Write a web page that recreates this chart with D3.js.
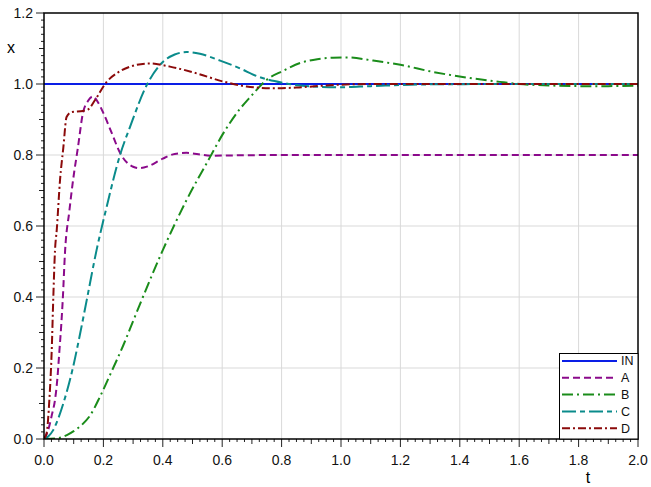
<!DOCTYPE html>
<html lang="en">
    <head>
        <meta charset="UTF-8">
        <title>Step responses</title>
        <style>
            body { margin: 0; background: white; }
            svg { display: block; font-family: "Liberation Sans", Arial, sans-serif; }
            .grid line { stroke: #d9d9d9; stroke-width: 1; }
            .tick-label { font-size: 14px; fill: #111; }
            .series { fill: none; stroke-width: 2; }
            .legend-text { font-size: 12.5px; fill: #111; }
        </style>
    </head>
    <body>
        <script src="https://d3js.org/d3.v7.min.js"></script>
        <script>
            // series: [t, x] pairs
            const seriesIN = [[0, 1], [2, 1]];
            const seriesA = [[0, 0], [0.008, 0.012], [0.017, 0.034], [0.027, 0.07], [0.037, 0.11], [0.045, 0.17],
                [0.052, 0.25], [0.058, 0.32], [0.063, 0.39], [0.071, 0.53], [0.085, 0.64], [0.098, 0.73],
                [0.114, 0.82], [0.131, 0.918], [0.148, 0.952], [0.165, 0.965], [0.182, 0.948], [0.2, 0.918],
                [0.228, 0.862], [0.256, 0.806], [0.28, 0.778], [0.3, 0.767], [0.323, 0.763], [0.35, 0.768],
                [0.4, 0.79], [0.44, 0.803], [0.48, 0.806], [0.52, 0.802], [0.56, 0.798], [0.65, 0.799],
                [0.8, 0.8], [2.0, 0.8]];
            const seriesB = [[0, 0], [0.05, 0.003], [0.077, 0.011], [0.1, 0.022], [0.13, 0.042], [0.155, 0.066],
                [0.189, 0.12], [0.222, 0.18], [0.266, 0.262], [0.3, 0.332], [0.333, 0.4], [0.4, 0.532],
                [0.48, 0.673], [0.559, 0.794], [0.6, 0.856], [0.66, 0.93], [0.694, 0.963], [0.75, 1.012],
                [0.805, 1.037], [0.862, 1.059], [0.92, 1.07], [0.973, 1.074], [1.02, 1.075], [1.108, 1.066],
                [1.2, 1.054], [1.31, 1.034], [1.424, 1.018], [1.535, 1.006], [1.6, 1.0], [1.7, 0.996],
                [1.8, 0.994], [1.9, 0.994], [2.0, 0.995]];
            const seriesC = [[0, 0], [0.015, 0.008], [0.031, 0.025], [0.048, 0.058], [0.065, 0.1], [0.098, 0.203],
                [0.12, 0.29], [0.144, 0.392], [0.177, 0.532], [0.211, 0.654], [0.256, 0.8], [0.29, 0.88],
                [0.346, 0.997], [0.4, 1.062], [0.44, 1.083], [0.48, 1.09], [0.525, 1.085], [0.593, 1.066],
                [0.66, 1.044], [0.717, 1.022], [0.805, 1.003], [0.9, 0.993], [1.0, 0.991], [1.1, 0.994],
                [1.3, 0.999], [1.6, 1.0], [2.0, 1.0]];
            const seriesD = [[0, 0], [0.009, 0.017], [0.018, 0.11], [0.026, 0.25], [0.031, 0.39], [0.037, 0.53],
                [0.043, 0.59], [0.054, 0.73], [0.065, 0.82], [0.076, 0.907], [0.093, 0.921], [0.131, 0.924],
                [0.148, 0.928], [0.172, 0.955], [0.211, 1.006], [0.25, 1.033], [0.29, 1.049], [0.357, 1.058],
                [0.424, 1.049], [0.514, 1.03], [0.603, 1.007], [0.682, 0.993], [0.771, 0.988], [0.85, 0.99],
                [0.95, 0.996], [1.1, 1.0], [2.0, 1.0]];

            const seriesNames = ["IN", "A", "B", "C", "D"];
            const seriesData = [seriesIN, seriesA, seriesB, seriesC, seriesD];
            const seriesColors = ["#0a1ee6", "#8b0a8b", "#1a8c1a", "#0a8b8b", "#8b0a0a"];
            const seriesDashes = ["none", "7,4", "11,4,2,4", "14,4,5,4", "8,3,2,3"];

            const xTicks = [0, 0.2, 0.4, 0.6, 0.8, 1.0, 1.2, 1.4, 1.6, 1.8, 2.0];
            const yTicks = [0, 0.2, 0.4, 0.6, 0.8, 1.0, 1.2];

            const width = 651, height = 487;
            const plotLeft = 44, plotRight = 638, plotTop = 13, plotBottom = 439;

            const svg = d3.select("body").append("svg")
                .attr("width", width)
                .attr("height", height);

            const x = d3.scaleLinear().domain([0, 2]).range([plotLeft, plotRight]);
            const y = d3.scaleLinear().domain([0, 1.2]).range([plotBottom, plotTop]);

            // grid
            const grid = svg.append("g").attr("class", "grid");
            grid.selectAll(".gx").data(xTicks.slice(1, -1)).enter().append("line")
                .attr("x1", d => x(d)).attr("x2", d => x(d))
                .attr("y1", plotTop).attr("y2", plotBottom);
            grid.selectAll(".gy").data(yTicks.slice(1, -1)).enter().append("line")
                .attr("x1", plotLeft).attr("x2", plotRight)
                .attr("y1", d => y(d)).attr("y2", d => y(d));

            // minor ticks
            const xMinor = d3.range(0, 81).map(i => i * 0.025);
            const yMinor = d3.range(0, 61).map(i => i * 0.02);
            const tickLen = (v, major, mid) => {
                if (Math.abs(v / major - Math.round(v / major)) < 1e-6) return 8;
                if (Math.abs(v / mid - Math.round(v / mid)) < 1e-6) return 5;
                return 3;
            };
            svg.append("g").selectAll("line").data(xMinor).enter().append("line")
                .attr("x1", d => x(d)).attr("x2", d => x(d))
                .attr("y1", plotBottom).attr("y2", d => plotBottom + tickLen(d, 0.2, 0.1))
                .attr("stroke", "#222").attr("stroke-width", 1);
            svg.append("g").selectAll("line").data(yMinor).enter().append("line")
                .attr("y1", d => y(d)).attr("y2", d => y(d))
                .attr("x1", plotLeft).attr("x2", d => plotLeft - tickLen(d, 0.2, 0.1))
                .attr("stroke", "#222").attr("stroke-width", 1);

            // tick labels
            svg.append("g").selectAll("text").data(xTicks).enter().append("text")
                .attr("class", "tick-label")
                .attr("x", d => x(d)).attr("y", 465)
                .attr("text-anchor", "middle")
                .text(d => d3.format(".1f")(d));
            svg.append("g").selectAll("text").data(yTicks).enter().append("text")
                .attr("class", "tick-label")
                .attr("x", 33).attr("y", d => y(d)).attr("dy", "0.35em")
                .attr("text-anchor", "end")
                .text(d => d3.format(".1f")(d));

            // axis titles
            svg.append("text").attr("x", 11).attr("y", 53).attr("text-anchor", "middle")
                .style("font-size", "16px").text("x");
            svg.append("text").attr("x", 588).attr("y", 483).attr("text-anchor", "middle")
                .style("font-size", "16px").text("t");

            // curves
            svg.append("clipPath").attr("id", "plot-clip").append("rect")
                .attr("x", plotLeft).attr("y", plotTop)
                .attr("width", plotRight - plotLeft).attr("height", plotBottom - plotTop);

            const line = d3.line()
                .x(d => x(d[0]))
                .y(d => y(d[1]))
                .curve(d3.curveMonotoneX);

            svg.append("g").attr("clip-path", "url(#plot-clip)")
                .selectAll("path").data(seriesData).enter().append("path")
                .attr("class", "series")
                .attr("d", d => line(d))
                .attr("stroke", (d, i) => seriesColors[i])
                .attr("stroke-dasharray", (d, i) => seriesDashes[i]);

            // frame
            svg.append("rect")
                .attr("x", plotLeft).attr("y", plotTop)
                .attr("width", plotRight - plotLeft).attr("height", plotBottom - plotTop)
                .attr("fill", "none").attr("stroke", "#000").attr("stroke-width", 1.5);

            // legend
            const legend = svg.append("g");
            legend.append("rect")
                .attr("x", 559.5).attr("y", 353.5)
                .attr("width", plotRight - 559.5).attr("height", plotBottom - 353.5)
                .attr("fill", "white").attr("stroke", "#000").attr("stroke-width", 1);
            const rows = legend.selectAll("g.row").data(seriesNames).enter().append("g")
                .attr("transform", (d, i) => `translate(0, ${361 + i * 16.8})`);
            rows.append("line")
                .attr("x1", 562).attr("x2", 617).attr("y1", 0).attr("y2", 0)
                .attr("stroke", (d, i) => seriesColors[i])
                .attr("stroke-width", 2)
                .attr("stroke-dasharray", (d, i) => seriesDashes[i]);
            rows.append("text")
                .attr("class", "legend-text")
                .attr("x", 621).attr("y", 0).attr("dy", "0.35em")
                .text(d => d);
        </script>
    </body>
</html>
